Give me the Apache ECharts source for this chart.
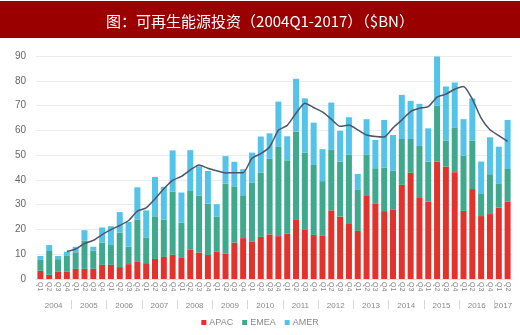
<!DOCTYPE html>
<html>
<head>
<meta charset="utf-8">
<script src="https://cdn.jsdelivr.net/npm/echarts@6/dist/echarts.min.js"></script>
<style>
  html, body { margin: 0; padding: 0; background: #fff; }
  #chart { width: 520px; height: 335px; }
</style>
</head>
<body>
<div id="chart"></div>
<script>
// Quarterly renewable energy investment, 2004Q1 - 2017Q2 ($BN)
const years = ['2004','2005','2006','2007','2008','2009','2010','2011','2012','2013','2014','2015','2016','2017'];
const quarterNames = ['Q1','Q2','Q3','Q4'];
const quartersInYear = [4,4,4,4,4,4,4,4,4,4,4,4,4,2];

const apac = [3.3,1.7,2.9,2.9, 4.1,4.1,4.1,5.7, 5.7,4.8,6.0,6.9, 6.4,8.1,8.9,9.8,
  8.5,11.8,10.7,9.7, 11.0,10.3,14.7,16.5, 15.0,17.0,18.0,17.3, 18.4,24.1,19.8,17.8,
  17.4,27.7,25.2,22.2, 19.4,33.5,30.3,27.4, 27.9,38.0,42.9,33.0, 31.2,47.4,45.4,43.1,
  27.5,36.3,25.4,26.2, 28.8,31.2];
const emea = [4.4,9.6,5.1,6.4, 6.7,11.4,7.4,9.0, 8.0,13.9,7.0,17.1, 10.4,17.2,15.1,25.5,
  14.2,24.0,23.0,20.7, 14.1,28.2,22.7,17.3, 23.8,26.0,30.5,36.0, 29.5,35.4,31.2,28.2,
  22.1,24.4,22.2,27.9, 16.8,16.8,14.4,17.5, 15.8,18.5,13.6,20.7, 16.2,22.5,10.5,18.1,
  22.2,19.6,8.9,16.1, 9.8,13.2];
const amer = [1.6,2.4,1.3,1.7, 2.2,4.2,1.5,6.1, 7.6,8.3,10.0,13.0, 10.9,15.9,13.2,16.6,
  12.2,16.2,11.8,13.2, 5.1,11.1,9.9,10.5, 12.2,14.5,10.3,18.3, 9.7,21.3,21.9,17.1,
  12.9,19.1,12.4,15.2, 6.2,14.2,11.4,19.3, 14.4,17.8,15.4,17.0, 13.4,19.9,21.8,18.1,
  14.8,17.0,13.1,14.9, 14.8,19.8];
// four-quarter trailing trend line
const trend = ['-','-','-',11.1, 12.1,14.3,15.6,17.9, 19.9,21.6,23.6,27.4, 28.7,32.3,36.4,39.8,
  41.4,44.0,46.0,44.7, 43.7,42.8,42.9,42.9, 48.7,50.6,53.3,60.0, 62.0,66.9,70.9,69.2,
  67.4,64.5,61.6,62.2, 60.2,58.1,57.5,57.3, 61.0,64.2,67.6,68.9, 69.6,73.4,74.6,76.6,
  77.7,72.6,64.9,60.2, 57.9,55.5];
const yTicks = { min: 0, max: 90, step: 10 };

// quarter categories, one per bar
const quarterLabels = [];
years.forEach((y, k) => {
  for (let q = 0; q < quartersInYear[k]; q++) quarterLabels.push(quarterNames[q]);
});

// Year row on a half-step axis (two slots per bar plus one):
// year names centred under their bars, separator ticks between years.
const yearRow = new Array(quarterLabels.length * 2 + 1).fill('');
const yearCentres = new Set();
const yearBounds = new Set();
let start = 0;
years.forEach((y, k) => {
  const n = quartersInYear[k];
  const centre = start * 2 + n;
  yearRow[centre] = y;
  yearCentres.add(centre);
  if (k > 0) yearBounds.add(start * 2);
  start += n;
});

const chart = echarts.init(document.getElementById('chart'), null, { renderer: 'canvas' });
const font = 'Arial, "Liberation Sans", sans-serif';

chart.setOption({
  animation: false,
  backgroundColor: '#ffffff',
  graphic: [{
    type: 'rect', left: 0, top: 1, z: -1,
    shape: { width: 520, height: 37 },
    style: { fill: '#9a0000' }
  }],
  title: {
    text: '图：可再生能源投资（2004Q1-2017）（$BN）',
    left: 'center', top: 9,
    textStyle: { color: '#ffffff', fontSize: 15, fontWeight: 'normal', fontFamily: '"Noto Sans CJK SC", sans-serif' }
  },
  legend: {
    data: ['APAC', 'EMEA', 'AMER'],
    bottom: 3, left: 'center',
    icon: 'rect', itemWidth: 5, itemHeight: 5, itemGap: 9,
    textStyle: { color: '#888', fontSize: 9, fontFamily: font, padding: [0, 0, 0, -2] }
  },
  grid: { left: 36, right: 8, top: 56, bottom: 56, containLabel: false },
  xAxis: [{
    type: 'category',
    data: quarterLabels,
    axisLine: { show: true, lineStyle: { color: '#e0e0e0' } },
    axisTick: { show: false },
    axisLabel: { rotate: -90, interval: 0, fontSize: 7, color: '#888', margin: 3, fontFamily: font }
  }, {
    type: 'category',
    data: yearRow,
    boundaryGap: false,
    position: 'bottom',
    offset: 21,
    axisLine: { show: false },
    axisTick: { show: true, length: 9, interval: (i) => yearBounds.has(i), lineStyle: { color: '#d8d8d8' } },
    axisLabel: { interval: (i) => yearCentres.has(i), fontSize: 8, color: '#888', margin: 2, fontFamily: font }
  }],
  yAxis: {
    type: 'value',
    min: yTicks.min, max: yTicks.max, interval: yTicks.step,
    axisLine: { show: false },
    axisTick: { show: false },
    splitLine: { lineStyle: { color: '#ececec', width: 1 } },
    axisLabel: { color: '#666', fontSize: 10, margin: 10, fontFamily: font }
  },
  series: [
    { name: 'APAC', type: 'bar', stack: 'inv', data: apac, barCategoryGap: '32%', itemStyle: { color: '#e1322b' } },
    { name: 'EMEA', type: 'bar', stack: 'inv', data: emea, itemStyle: { color: '#3ea98d' } },
    { name: 'AMER', type: 'bar', stack: 'inv', data: amer, itemStyle: { color: '#54c3ea' } },
    { name: 'trend', type: 'line', data: trend, smooth: 0.2, symbol: 'none',
      lineStyle: { color: '#4b5669', width: 1.5 }, z: 5 }
  ]
});
</script>
</body>
</html>
